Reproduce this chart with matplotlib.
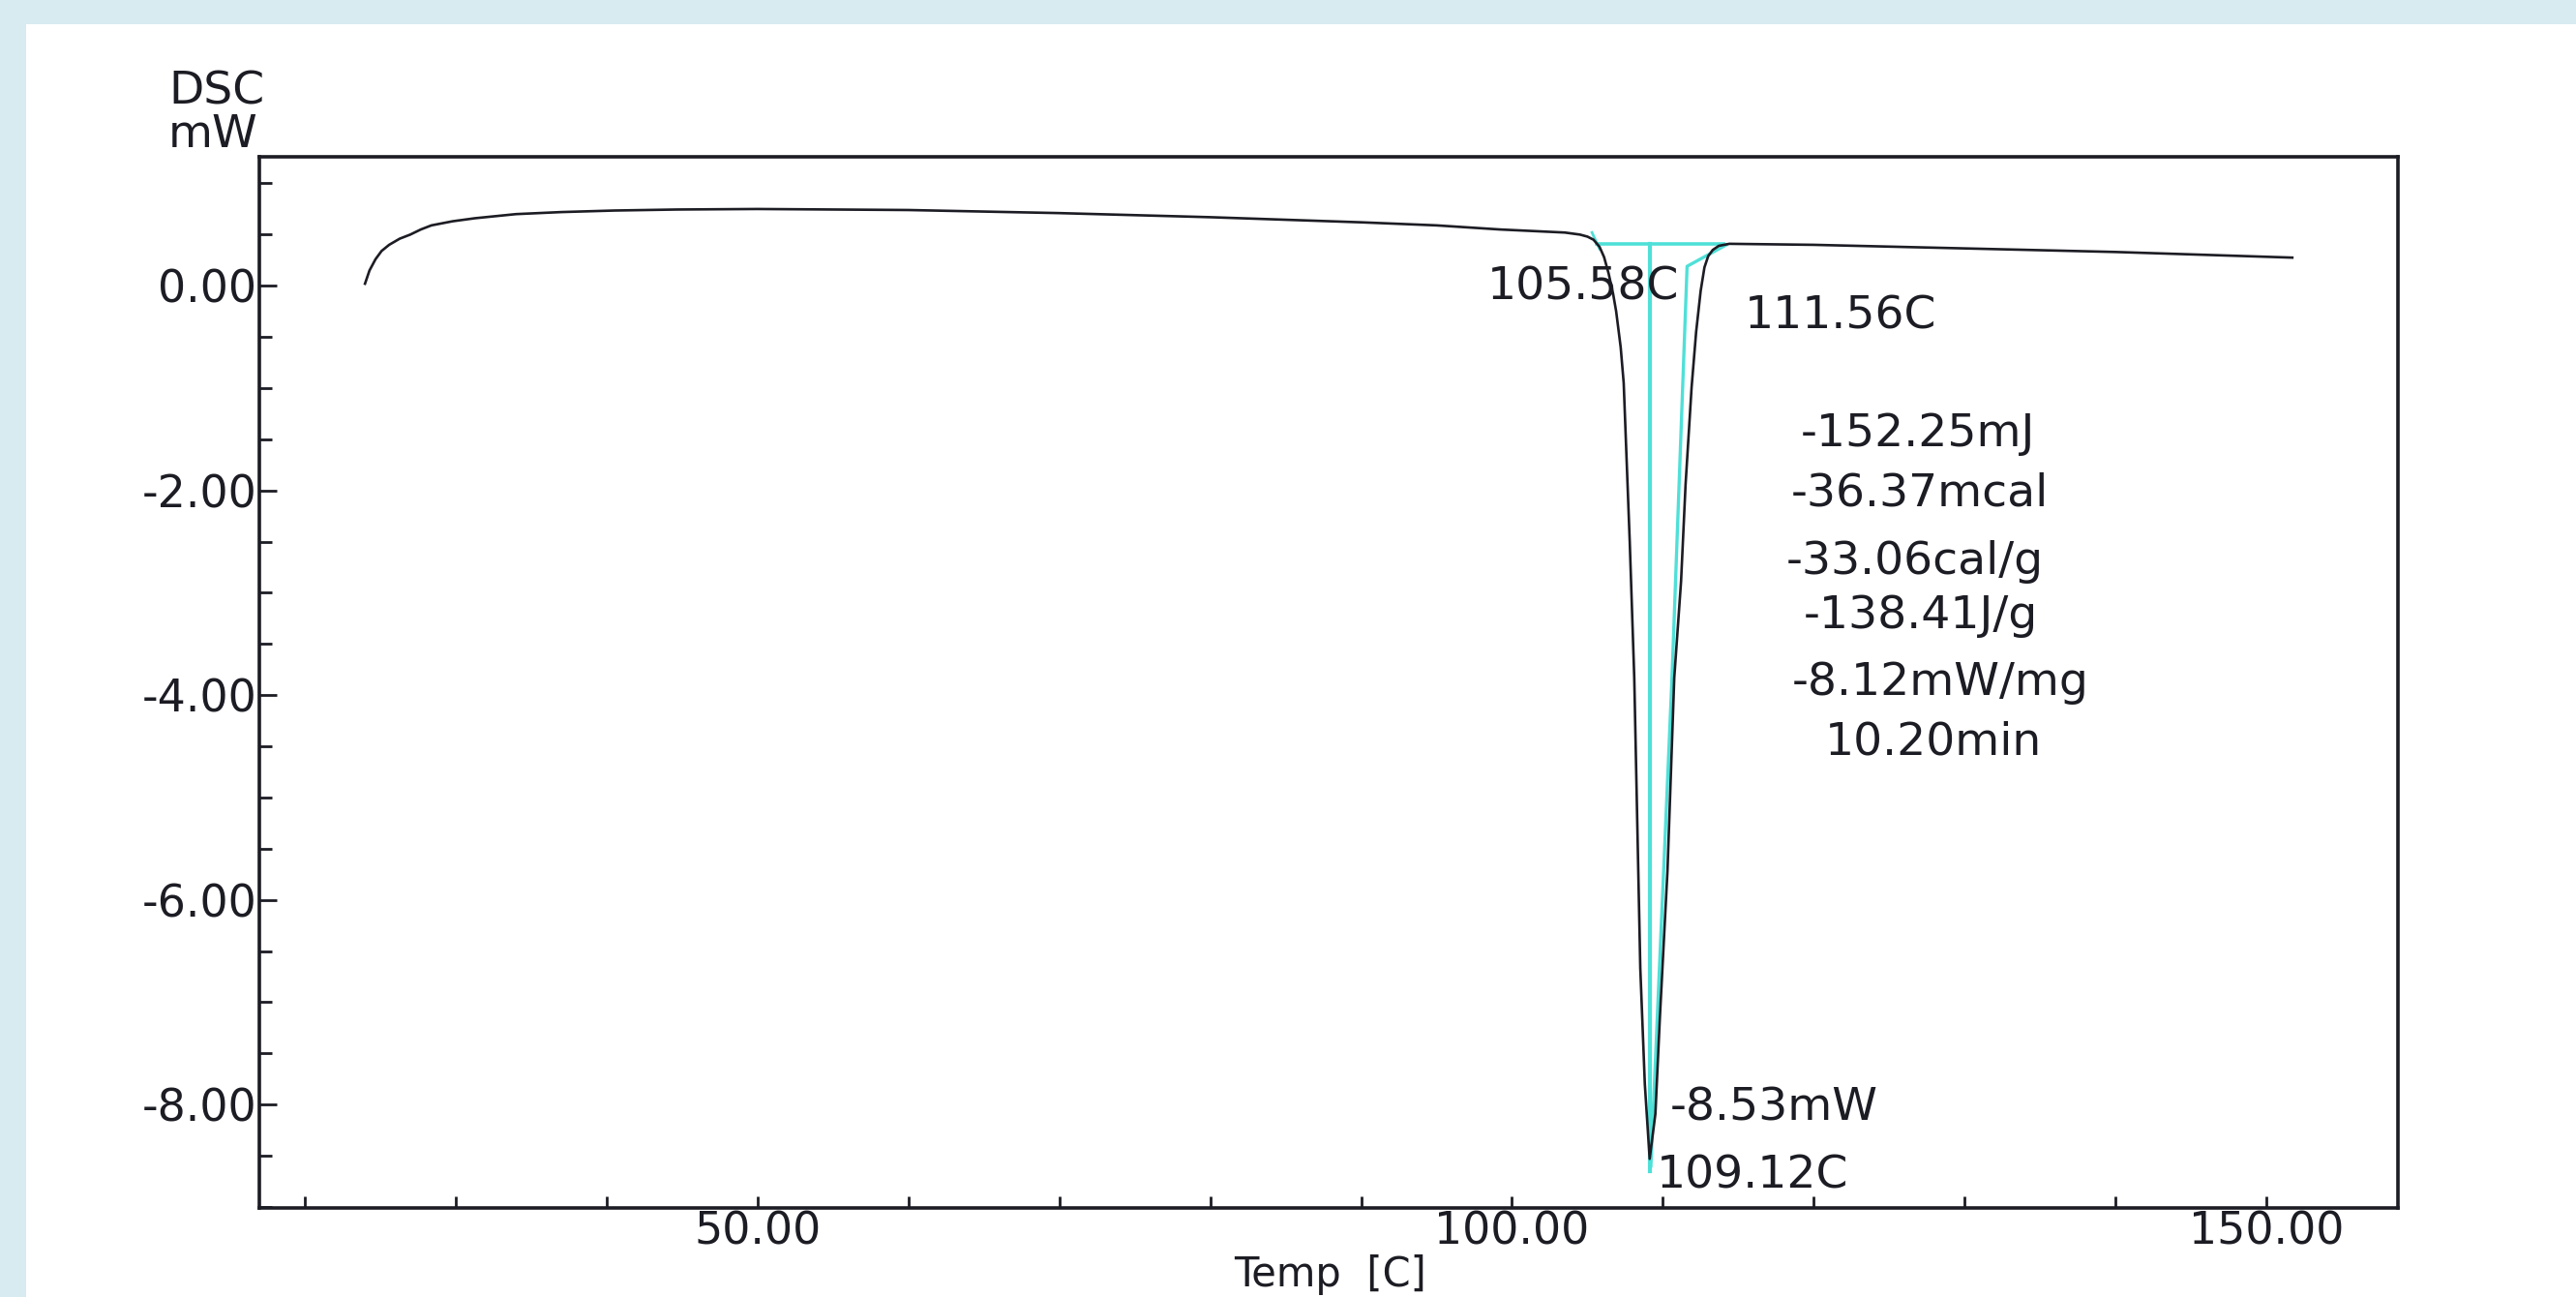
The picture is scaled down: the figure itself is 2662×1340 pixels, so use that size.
import matplotlib
matplotlib.use("Agg")
import matplotlib.pyplot as plt
from matplotlib.patches import Rectangle
from matplotlib.ticker import FixedLocator, MultipleLocator, FormatStrFormatter

plt.rcParams['font.family'] = ['DejaVu Sans']

# DSC trace (Temp in C, heat flow in mW)
temp = [24.0, 24.3, 24.7, 25.1, 25.6, 26.3, 27.0, 27.7, 28.4, 29.8, 31.3,
        34.0, 37.0, 40.5, 44.7, 50.0, 60.0, 70.0, 80.0, 90.0, 95.0, 99.2,
        103.5, 104.5, 105.0, 105.4, 105.8, 106.1, 106.4, 106.7, 106.9,
        107.2, 107.4, 107.8, 108.1, 108.5, 108.8, 109.12, 109.5, 109.8,
        110.3, 110.75, 111.2, 111.5, 111.9, 112.2, 112.5, 112.75, 113.0,
        113.3, 113.7, 114.4, 120.0, 130.0, 140.0, 151.7]
dsc = [0.02, 0.15, 0.26, 0.34, 0.40, 0.46, 0.50, 0.55, 0.59, 0.63, 0.66,
       0.70, 0.72, 0.735, 0.745, 0.75, 0.74, 0.71, 0.67, 0.62, 0.59, 0.55,
       0.52, 0.50, 0.48, 0.45, 0.38, 0.28, 0.12, -0.08, -0.25,
       -0.60, -0.95, -2.50, -3.83, -6.67, -7.80, -8.53, -8.09, -7.14,
       -5.72, -3.83, -2.89, -1.94, -0.99, -0.45, -0.05, 0.18, 0.29,
       0.35, 0.39, 0.41, 0.40, 0.365, 0.33, 0.275]

# analysis construction lines (cyan)
base_x = [105.58, 114.0]
base_y = [0.41, 0.41]
mark_x = [105.3, 105.8]
mark_y = [0.52, 0.36]
peak_x = [109.12, 109.12]
peak_y = [0.41, -8.65]
tang_x = [109.2, 110.6, 111.6, 114.2]
tang_y = [-8.6, -3.83, 0.19, 0.40]

# labels
peak_onset = "105.58C"
peak_end = "111.56C"
peak_min = "-8.53mW"
peak_temp = "109.12C"
results = ["-152.25mJ", "-36.37mcal", "-33.06cal/g", "-138.41J/g",
           "-8.12mW/mg", "10.20min"]
results_x = [126.9, 127.0, 126.7, 127.1, 128.4, 127.9]
results_y = [-1.45, -2.03, -2.70, -3.23, -3.88, -4.46]

W, H = 2662, 1340
fig = plt.figure(figsize=(W / 100, H / 100), dpi=100)
fig.patch.set_facecolor('#d7ebf1')
fig.patches.append(Rectangle((27 / W, 0), 1, 1 - 25 / H, transform=fig.transFigure,
                             facecolor='white', edgecolor='none', zorder=-10))

ax = fig.add_axes([268 / W, 1 - 1248 / H, (2478 - 268) / W, (1248 - 162) / H])
ax.set_zorder(5)
ax.set_facecolor('white')

cyan = '#4fe0d8'
ink = '#1c1c24'
ax.plot(base_x, base_y, color=cyan, lw=2.6, zorder=2)
ax.plot(mark_x, mark_y, color=cyan, lw=2.0, zorder=2)
ax.plot(peak_x, peak_y, color=cyan, lw=3.0, zorder=2)
ax.plot(tang_x, tang_y, color=cyan, lw=2.4, zorder=2)
ax.plot(temp, dsc, color=ink, lw=1.9, zorder=3)

ax.set_xlim(17.0, 158.7)
ax.set_ylim(-9.01, 1.26)

ax.xaxis.set_major_locator(FixedLocator([50, 100, 150]))
ax.xaxis.set_minor_locator(MultipleLocator(10))
ax.yaxis.set_major_locator(FixedLocator([-8, -6, -4, -2, 0]))
ax.yaxis.set_minor_locator(MultipleLocator(0.5))
ax.xaxis.set_major_formatter(FormatStrFormatter('%.2f'))
ax.yaxis.set_major_formatter(FormatStrFormatter('%.2f'))

ax.tick_params(axis='both', which='both', direction='in', width=2.0, colors=ink,
               labelsize=33, labelcolor=ink)
ax.tick_params(axis='y', which='major', length=13, pad=2)
ax.tick_params(axis='y', which='minor', length=9.4)
ax.tick_params(axis='x', which='both', length=8.6, pad=1.5)

for s in ax.spines.values():
    s.set_linewidth(2.6)
    s.set_color(ink)

fs = 34
ax.text(111.1, -0.02, peak_onset, ha='right', va='center', fontsize=fs, color=ink, zorder=4)
ax.text(115.4, -0.30, peak_end, ha='left', va='center', fontsize=fs, color=ink)
ax.text(110.45, -8.04, peak_min, ha='left', va='center', fontsize=fs, color=ink)
ax.text(109.6, -8.70, peak_temp, ha='left', va='center', fontsize=fs, color=ink)
for label, x, y in zip(results, results_x, results_y):
    ax.text(x, y, label, ha='center', va='center', fontsize=fs, color=ink)

fig.text(174 / W, 1 - 95 / H, "DSC", ha='left', va='center', fontsize=fs, color=ink)
fig.text(174 / W, 1 - 139 / H, "mW", ha='left', va='center', fontsize=fs, color=ink)
fig.text(1375 / W, 2 / H, "Temp  [C]", ha='center', va='bottom', fontsize=30, color=ink)

fig.savefig("out.png", dpi=100, facecolor=fig.get_facecolor())
